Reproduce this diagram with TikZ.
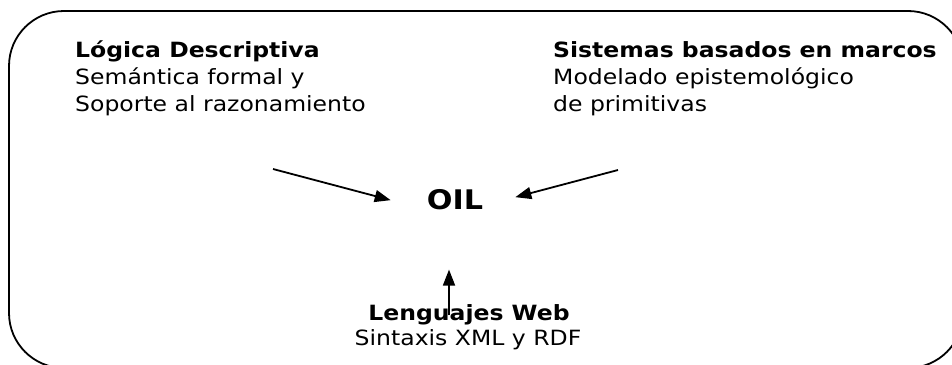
\documentclass[tikz,border=0pt]{standalone}
\usepackage{fontspec}
\setmainfont{DejaVu Sans}[FakeStretch=1.12]
\usetikzlibrary{arrows.meta}

\tikzset{
  titulo/.style={font=\bfseries\fontsize{21}{25}\selectfont, anchor=base west, inner sep=0pt},
  texto/.style={font=\fontsize{21}{25}\selectfont, anchor=base west, inner sep=0pt},
  flecha/.style={-{Triangle[length=16pt,width=12pt]}, line width=1.8pt},
}

\begin{document}
\begin{tikzpicture}[x=1pt,y=-1pt]
		\useasboundingbox (0,0) rectangle (952,364);
		\begin{scope}
			\clip (0,0) rectangle (952,364);
			\draw[line width=1.8pt, rounded corners=55pt] (9,11) rectangle (963,368);
		\end{scope}
		% logica descriptiva
		\node[titulo] (ld) at (75,57) {Lógica Descriptiva};
		\node[texto] (ld2) at (75,84) {Semántica formal y};
		\node[texto] (ld3) at (75,111) {Soporte al razonamiento};
		% marcos
		\node[titulo] (sm) at (553,57) {Sistemas basados en marcos};
		\node[texto] (sm2) at (553,84) {Modelado epistemológico};
		\node[texto] (sm3) at (553,111) {de primitivas};
		% centro
		\node[font=\bfseries\fontsize{27}{31}\selectfont, anchor=base, inner sep=0pt] (oil) at (455,209) {OIL};
		% web
		\node[titulo, anchor=base] (web) at (469,320) {Lenguajes Web};
		\node[texto, anchor=base] (web2) at (468,345) {Sintaxis XML y RDF};
		% flechas
		\coordinate (desdeLD) at (273,169);
		\coordinate (desdeSM) at (618,170);
		\coordinate (desdeWeb) at (449,315);
		\draw[flecha] (desdeLD) -- ([shift={(-36,1)}]oil.west);
		\draw[flecha] (desdeSM) -- ([shift={(32,-2)}]oil.east);
		\draw[flecha] (desdeWeb) -- ([shift={(-6,60)}]oil.south);
	\end{tikzpicture}
\end{document}
